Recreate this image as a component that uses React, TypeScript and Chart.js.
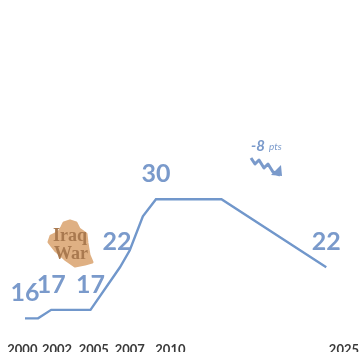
import React, { useEffect, useRef } from "react";
import { Chart, registerables } from "chart.js";

Chart.register(...registerables);

// Survey slots along the timeline and the share recorded at each one.
const surveySlots = [0, 1, 2, 5, 7.25, 8, 9, 10, 15, 23];
const shareValues = [16, 16, 17, 17, 22, 24, 28, 30, 30, 22];
const shareLabels = ["16", "", "17", "17", "22", "", "", "30", "", "22"];

// Year captions and the slots they sit under.
const tickYears = ["2000", "2002", "2005", "2007", "2010", "2025"];
const tickSlots = [-0.2, 2.45, 5.25, 8, 11.1, 24.35];

const LINE_BLUE = "#7197cb";
const LABEL_BLUE = "#7a9acb";
const BADGE_TAN = "#dfb083";

// Outline of the country-shaped badge behind the "Iraq War" note.
const badgeOutline: [number, number][] = [
  [64, 223], [70, 221], [76, 223], [79, 229], [86, 234], [87, 243], [89, 255],
  [92, 262], [85, 264], [75, 266], [65, 259], [56, 251], [49, 242], [51, 236],
  [59, 232], [62, 227],
];

// Zigzag arrow beside the "-8 pts" note.
const zigzag: [number, number][] = [
  [251, 158], [255, 164], [259, 160], [264, 168], [268, 164], [273, 172], [280, 175],
];

const decorations = {
  id: "decorations",
  afterDatasetsDraw(chart: Chart) {
    const { ctx } = chart;
    const meta = chart.getDatasetMeta(0);
    ctx.save();

    // Value captions above the line.
    ctx.fillStyle = LABEL_BLUE;
    ctx.font = "bold 25px Lato";
    ctx.textAlign = "center";
    ctx.textBaseline = "middle";
    shareLabels.forEach((text, i) => {
      if (!text) return;
      const pt = meta.data[i];
      const shift = i === 4 ? -3 : 0;
      ctx.fillText(text, pt.x + shift, pt.y - 25);
    });

    // Iraq War badge, with softened corners.
    ctx.fillStyle = BADGE_TAN;
    ctx.strokeStyle = BADGE_TAN;
    ctx.lineWidth = 3;
    ctx.lineJoin = "round";
    ctx.beginPath();
    badgeOutline.forEach(([x, y], i) => (i ? ctx.lineTo(x, y) : ctx.moveTo(x, y)));
    ctx.closePath();
    ctx.fill();
    ctx.stroke();
    ctx.fillStyle = "#a9794f";
    ctx.font = "bold 18px 'Liberation Serif'";
    ctx.fillText("Iraq", 70, 236);
    ctx.fillText("War", 71, 254);

    // Change note and its arrow.
    ctx.fillStyle = LABEL_BLUE;
    ctx.textAlign = "left";
    ctx.font = "italic bold 15px Lato";
    ctx.fillText("-8", 251, 146);
    ctx.font = "italic 10px Lato";
    ctx.fillText("pts", 269, 147);
    ctx.strokeStyle = LABEL_BLUE;
    ctx.lineWidth = 3;
    ctx.beginPath();
    zigzag.forEach(([x, y], i) => (i ? ctx.lineTo(x, y) : ctx.moveTo(x, y)));
    ctx.stroke();
    ctx.beginPath();
    ctx.moveTo(282, 176);
    ctx.lineTo(281, 165);
    ctx.lineTo(271, 175);
    ctx.closePath();
    ctx.fill();

    ctx.restore();
  },
};

export default function App() {
  const ref = useRef<HTMLCanvasElement>(null);

  useEffect(() => {
    document.body.style.margin = "0";
    const chart = new Chart(ref.current!, {
      type: "line",
      data: {
        datasets: [
          {
            data: surveySlots.map((x, i) => ({ x, y: shareValues[i] })),
            borderColor: LINE_BLUE,
            borderWidth: 2.4,
            pointRadius: 0,
            tension: 0,
            fill: false,
          },
        ],
      },
      options: {
        animation: false,
        responsive: false,
        layout: { padding: { bottom: -5, right: -7 } },
        plugins: { legend: { display: false }, tooltip: { enabled: false } },
        scales: {
          x: {
            type: "linear",
            min: -1.908,
            max: 25.5,
            grid: { display: false },
            border: { display: false },
            afterBuildTicks: (scale: any) => {
              scale.ticks = tickSlots.map((value) => ({ value }));
            },
            ticks: {
              autoSkip: false,
              maxRotation: 0,
              minRotation: 0,
              padding: -1,
              color: "#3a3a3a",
              font: { family: "Lato", weight: "bold", size: 13 },
              callback: (_v: any, i: number) => tickYears[i],
            },
          },
          y: { display: false, min: 14, max: 53.4 },
        },
      },
      plugins: [decorations],
    } as any);
    return () => chart.destroy();
  }, []);

  return <canvas ref={ref} width={359} height={352} style={{ display: "block" }} />;
}
